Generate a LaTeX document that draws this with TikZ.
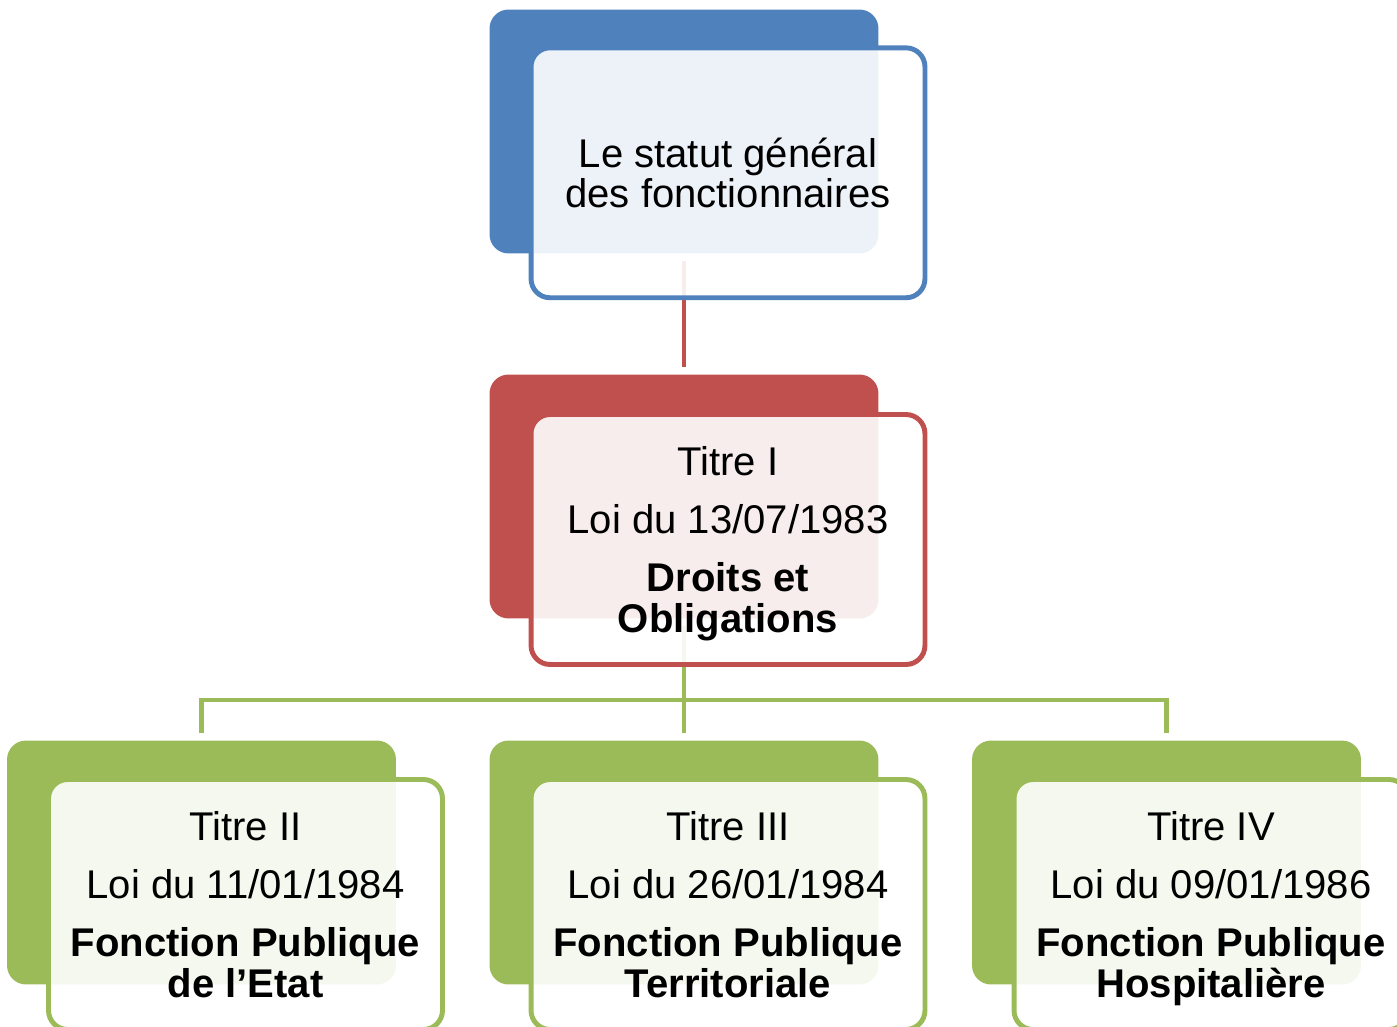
\documentclass[tikz,border=0pt]{standalone}
\usepackage{fontspec}
\setmainfont{Liberation Sans}
\definecolor{accblue}{HTML}{4F81BD}
\definecolor{accred}{HTML}{C0504D}
\definecolor{accgreen}{HTML}{9BBB59}
\newcommand\boxfont{\fontsize{22.8}{23}\selectfont\lineskiplimit-20pt\relax}
\newcommand\lastline[1]{\raisebox{0pt}[\height][0pt]{\textbf{#1}}}
\begin{document}
\begin{tikzpicture}[x=0.02cm,y=-0.02cm]
\tikzstyle{back}=[rectangle,rounded corners=0.38cm,minimum width=7.78cm,minimum height=4.88cm,inner sep=0pt]
\tikzstyle{front}=[rectangle,draw,line width=2.8pt,rounded corners=0.38cm,fill=white,fill opacity=0.9,text opacity=1,minimum width=7.88cm,minimum height=5cm,inner sep=0pt,align=center,font=\boxfont]
\tikzstyle{link}=[line width=2.8pt,shorten <=0.14cm,shorten >=0.14cm]
\useasboundingbox (0,0) rectangle (1397,1027);
\clip (0,0) rectangle (1397,1027);
\node[back,fill=accblue] (b0) at (684,131.5) {};
\node[back,fill=accred] (b1) at (684,496.5) {};
\node[back,fill=accgreen] (b2) at (201.5,862.5) {};
\node[back,fill=accgreen] (b3) at (684,862.5) {};
\node[back,fill=accgreen] (b4) at (1166.5,862.5) {};
\coordinate (bus) at (684,700);
\draw[link,accred] (b0) -- (b1);
\draw[link,accgreen] (b1) -- (b3);
\draw[link,accgreen] (b2.north) |- (bus) -| (b4.north);
\node[front,draw=accblue] (f0) at (728,172.8) {Le statut général\\des fonctionnaires};
\node[front,draw=accred] (f1) at (728,539.5) {Titre I\\[10pt]Loi du 13/07/1983\\[10pt]\textbf{Droits et}\\\lastline{Obligations}};
\node[front,draw=accgreen] (f2) at (245.5,904.5) {Titre II\\[10pt]Loi du 11/01/1984\\[10pt]\textbf{Fonction Publique}\\\lastline{de l’Etat}};
\node[front,draw=accgreen] (f3) at (728,904.5) {Titre III\\[10pt]Loi du 26/01/1984\\[10pt]\textbf{Fonction Publique}\\\lastline{Territoriale}};
\node[front,draw=accgreen] (f4) at (1211,904.5) {Titre IV\\[10pt]Loi du 09/01/1986\\[10pt]\textbf{Fonction Publique}\\\lastline{Hospitalière}};
\end{tikzpicture}
\end{document}
